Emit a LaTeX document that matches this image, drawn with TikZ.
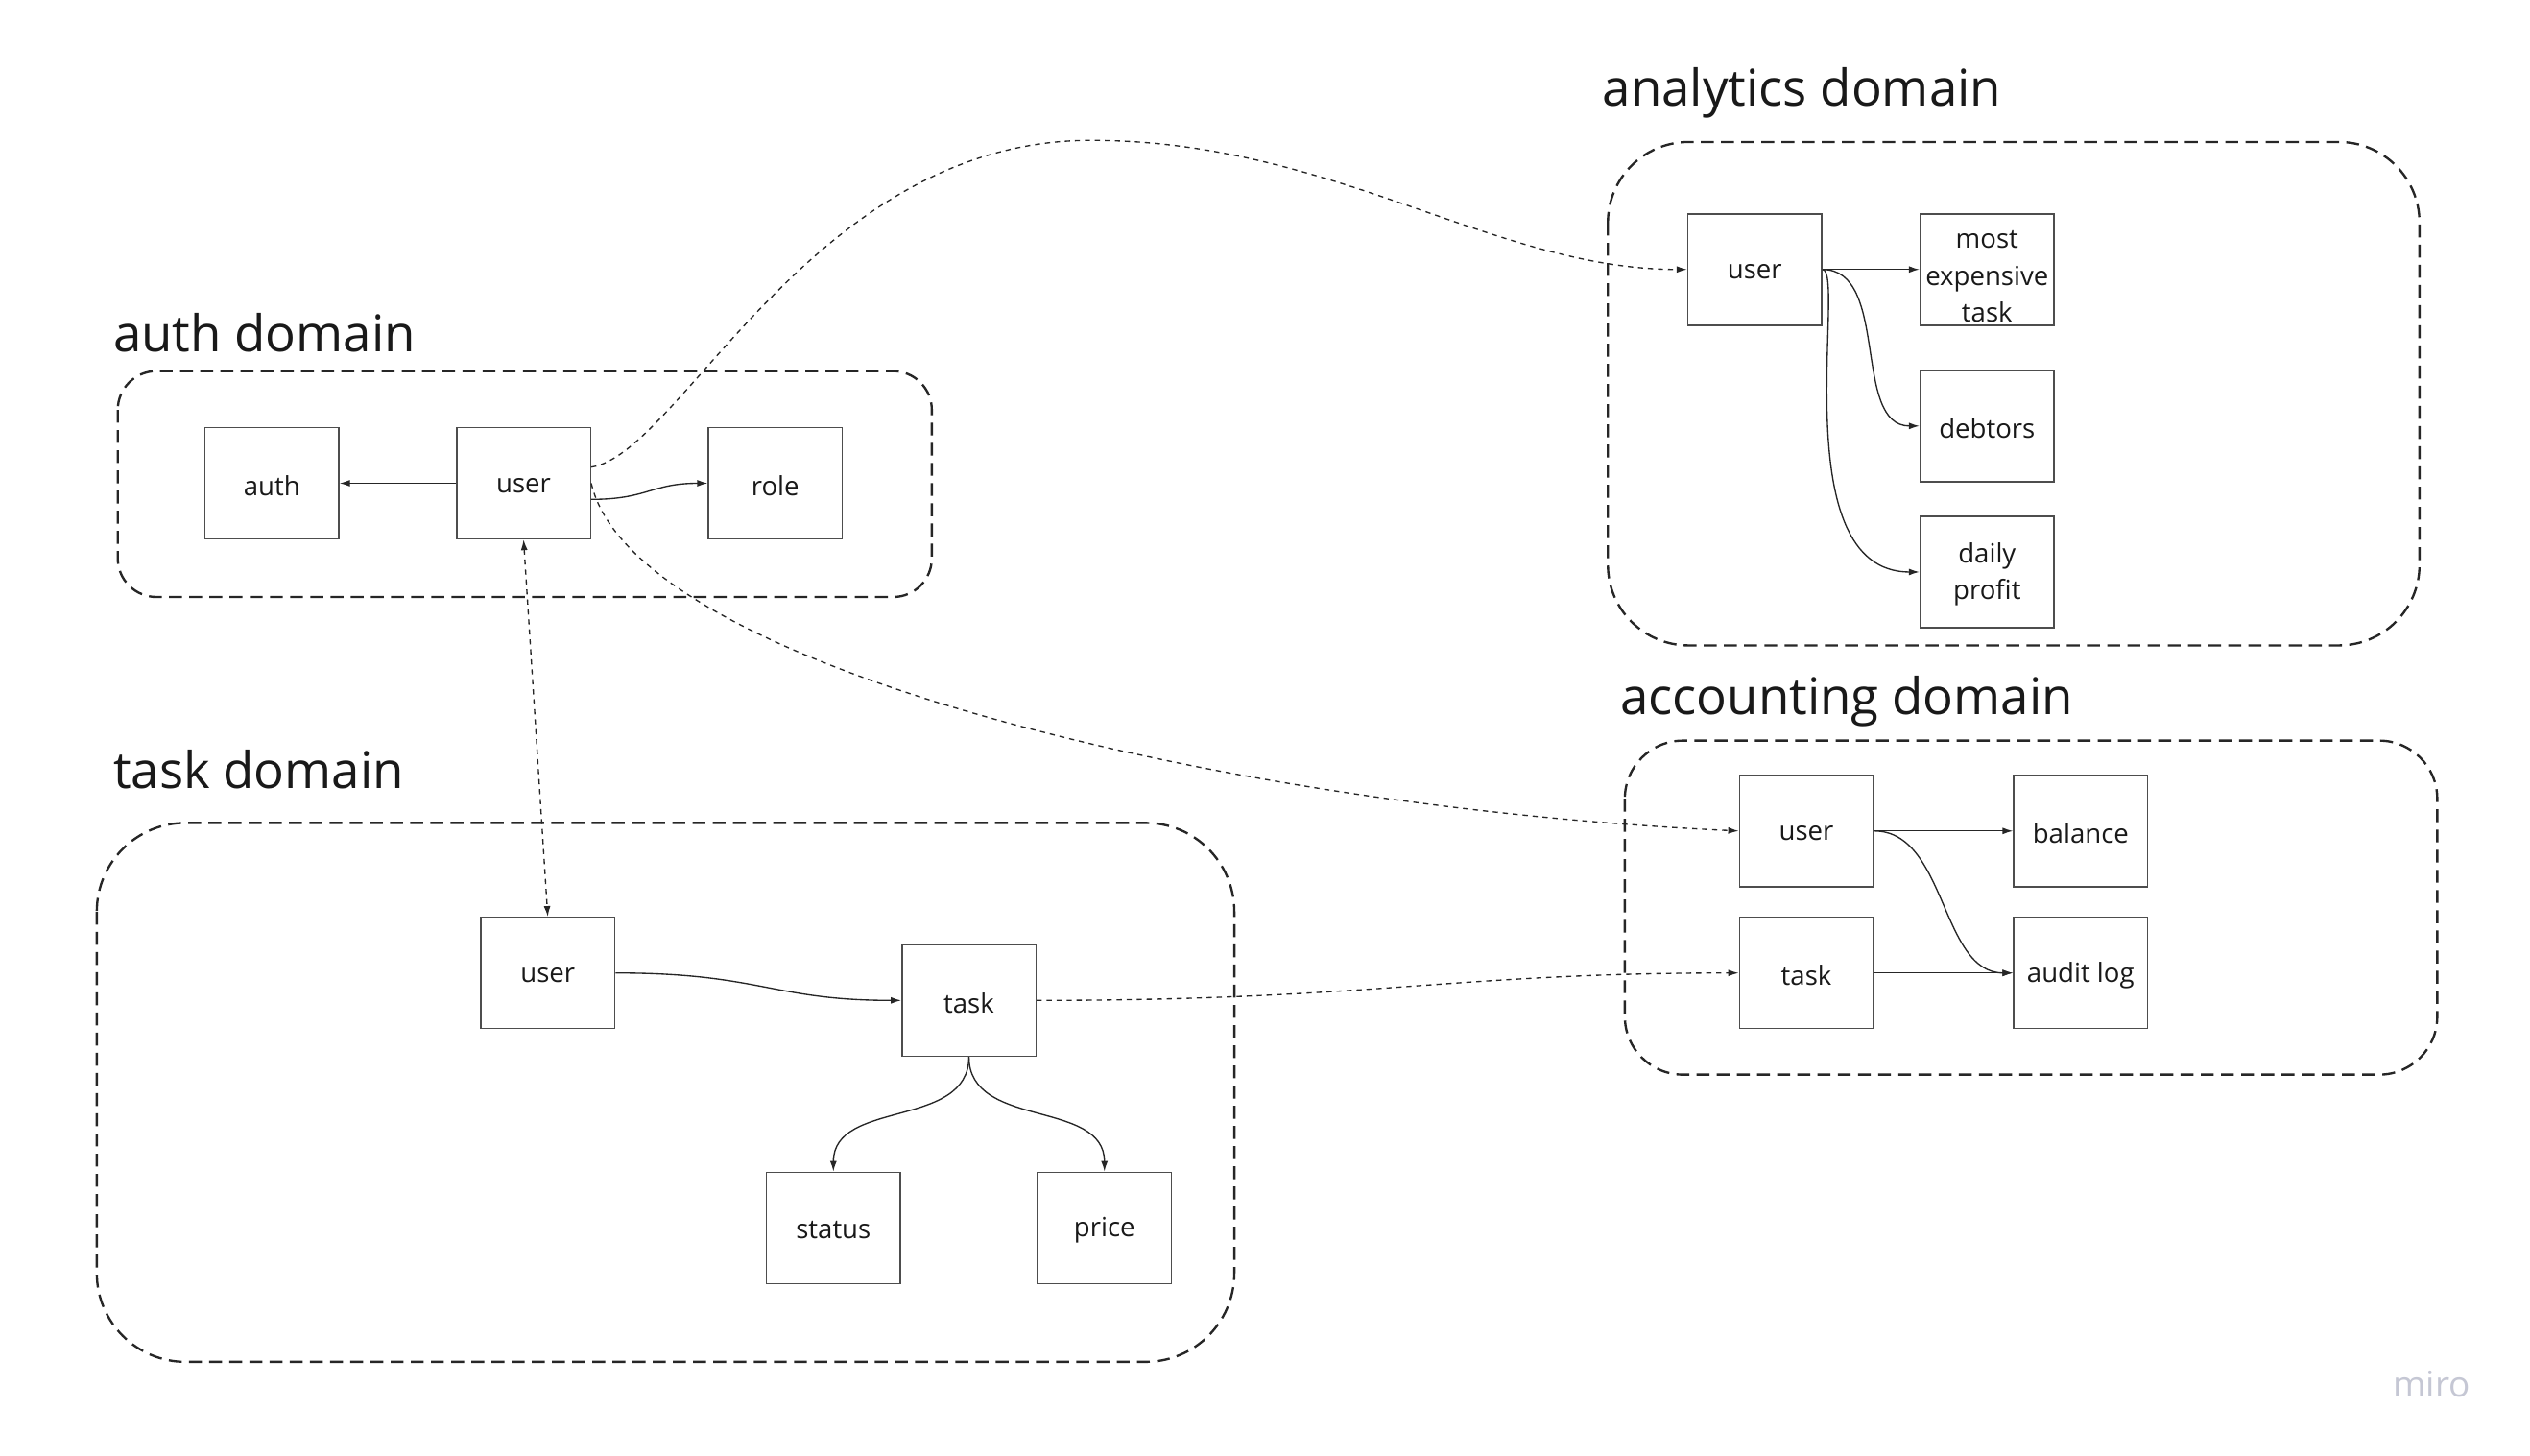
\documentclass[tikz,border=0pt]{standalone}
\usepackage{fontspec}
\setmainfont{Open Sans}
\usetikzlibrary{arrows.meta}
\definecolor{boxline}{HTML}{4D4D4D}
\definecolor{mirogray}{HTML}{C5C7D4}
\tikzset{
  box/.style={draw=boxline, line width=0.9pt, fill=white, minimum width=83pt, minimum height=69pt, inner sep=0pt},
  boxtext/.style={inner sep=0pt, align=center, font=\fontsize{16.4}{23}\selectfont, text=black!90},
  txt/.style={label={[boxtext, yshift=-1.5pt]center:{#1}}},
  txtm/.style={label={[boxtext, yshift=-4.5pt]center:{#1}}},
  domaintitle/.style={anchor=base west, inner sep=0pt, font=\fontsize{31.4}{36}\selectfont, text=black!90},
  domainframe/.style={draw=black!85, line width=1.4pt, dash pattern=on 8pt off 4.5pt},
  link/.style={draw=black!85, line width=0.8pt, -{Latex[length=6.5pt,width=4.2pt]}},
  dlink/.style={link, dash pattern=on 3.2pt off 3pt},
}
\begin{document}
\begin{tikzpicture}[x=1pt,y=-1pt]
\useasboundingbox (0,0) rectangle (1568,901.8);
\fill[white] (0,0) rectangle (1568,901.8);

% frames
\draw[domainframe, rounded corners=24pt] (73,230) rectangle (577.5,370);
\draw[domainframe, rounded corners=55pt] (60,510) rectangle (765,844);
\draw[domainframe, rounded corners=50pt] (996.5,88) rectangle (1499.5,400);
\draw[domainframe, rounded corners=36pt] (1007,459) rectangle (1510.5,666);

% titles
\node[domaintitle] (tauth) at (70,218) {auth domain};
\node[domaintitle] (ttask) at (70,488.5) {task domain};
\node[domaintitle] (tana) at (993,65.5) {analytics domain};
\node[domaintitle] (tacc) at (1004,443) {accounting domain};

% auth domain
\node[box, txt=auth] (auth) at (168.5,299.5) {};
\node[box, txt=user] (auser) at (324.5,299.5) {};
\node[box, txt=role] (role) at (480.5,299.5) {};

% task domain
\node[box, txt=user] (tuser) at (339.5,603) {};
\node[box, txt=task] (ttaskn) at (600.5,620) {};
\node[box, txt=status] (status) at (516.5,761) {};
\node[box, txt=price] (price) at (684.5,761) {};

% analytics domain
\node[box, txt=user] (anuser) at (1087.5,167) {};
\node[box, txtm={most\\expensive\\task}] (most) at (1231.5,167) {};
\node[box, txt=debtors] (debt) at (1231.5,264) {};
\node[box, txt={daily\\profit}] (daily) at (1231.5,354.5) {};

% accounting domain
\node[box, txt=user] (acuser) at (1119.5,515) {};
\node[box, txt=balance] (bal) at (1289.5,515) {};
\node[box, txt=task] (actask) at (1119.5,603) {};
\node[box, txt={audit log}] (audit) at (1289.5,603) {};

% auth links
\draw[link] (auser.west) -- (auth.east);
\draw[link] ([yshift=-10pt]auser.east) .. controls +(35,0) and +(-35,0) .. (role.west);

% cross-domain dashed links
\draw[dlink] ([yshift=10pt]auser.east) .. controls (422,281) and (503,87) .. (676,87)
  .. controls (826,87) and (926,167) .. (anuser.west);
\draw[dlink] (auser.east) .. controls (392,412) and (754,500) .. (acuser.west);
\draw[dlink] (ttaskn.east) .. controls (850,620) and (900,603) .. (actask.west);
\draw[dlink, {Latex[length=6.5pt,width=4.2pt]}-{Latex[length=6.5pt,width=4.2pt]}] (auser.south) -- (tuser.north);

% task links
\draw[link] (tuser.east) .. controls +(90,0) and +(-80,0) .. (ttaskn.west);
\draw[link] (ttaskn.south) .. controls +(0,45) and +(0,-45) .. (status.north);
\draw[link] (ttaskn.south) .. controls +(0,45) and +(0,-45) .. (price.north);

% analytics links
\draw[link] (anuser.east) -- (most.west);
\draw[link] (anuser.east) .. controls +(42,0) and +(-42,0) .. (debt.west);
\draw[link] (anuser.east) .. controls +(15,0) and +(-85,0) .. (daily.west);

% accounting links
\draw[link] (acuser.east) -- (bal.west);
\draw[link] (acuser.east) .. controls +(45,0) and +(-45,0) .. (audit.west);
\draw[link] (actask.east) -- (audit.west);

% watermark
\node[anchor=base, inner sep=0pt, text=mirogray, font=\fontsize{22}{24}\selectfont] (miro) at (1507,865.5) {miro};
\end{tikzpicture}
\end{document}
